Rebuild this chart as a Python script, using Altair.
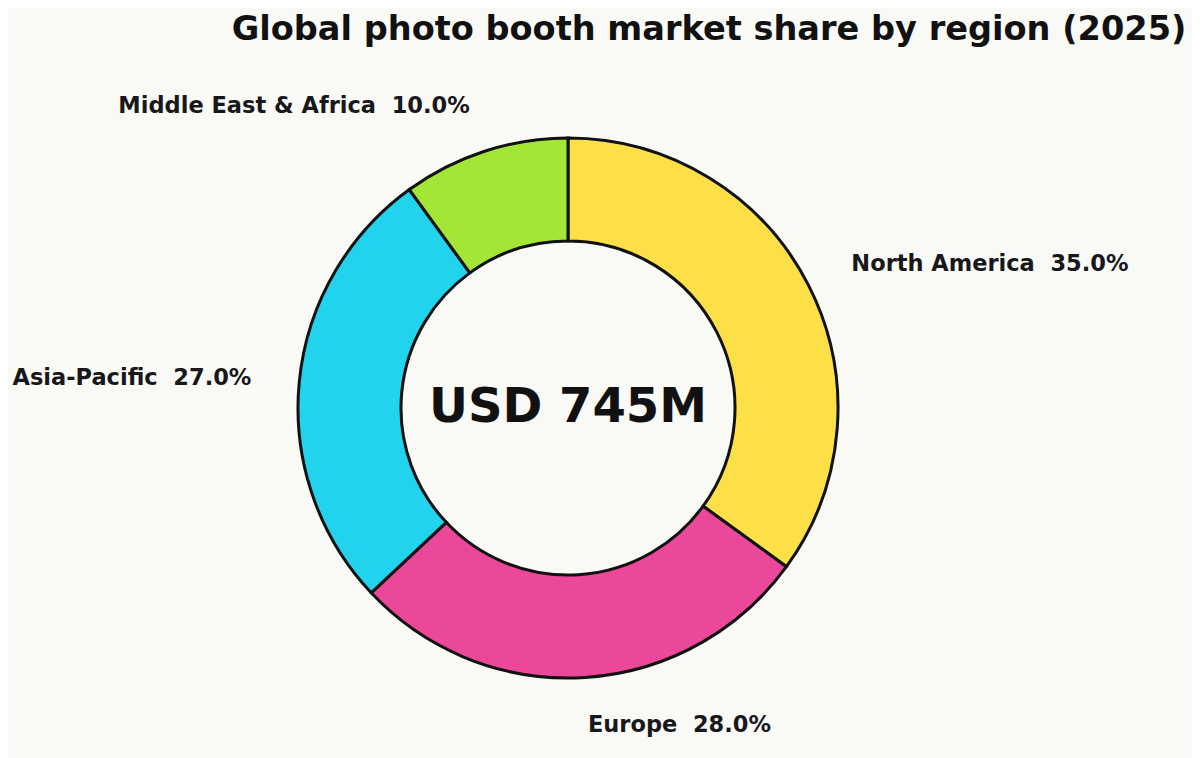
import altair as alt
import pandas as pd

regions = ["North America", "Europe", "Asia-Pacific", "Middle East & Africa"]
shares = [35.0, 28.0, 27.0, 10.0]
colors = ["#fde047", "#ec4899", "#22d3ee", "#a3e635"]
sides = ["right", "right", "left", "left"]
center_label = "USD 745M"
title_text = "Global photo booth market share by region (2025)"

df = pd.DataFrame({
    "region": regions,
    "share": shares,
    "idx": list(range(len(regions))),
    "side": sides,
})
df["label"] = [f"{r} \u00a0{s:.1f}%" for r, s in zip(regions, shares)]

arcs = alt.Chart(df).mark_arc(outerRadius=270, innerRadius=167, stroke="#111111", strokeWidth=3).encode(
    theta=alt.Theta("share:Q", stack=True),
    order=alt.Order("idx:Q"),
    color=alt.Color("region:N", scale=alt.Scale(domain=regions, range=colors), legend=None),
)

lab_base = alt.Chart(df).transform_window(
    cum="sum(share)", sort=[alt.SortField("idx")]
).transform_calculate(
    mid="datum.cum - datum.share / 2"
).encode(
    theta=alt.Theta("mid:Q", stack=None, scale=alt.Scale(domain=[0, 100])),
    text="label:N",
)

txt = dict(radius=318, baseline="middle", fontSize=22.5, fontWeight="bold",
           font="DejaVu Sans", color="#18181b")
lab_right = lab_base.mark_text(align="left", **txt).transform_filter(alt.datum.side == "right")
lab_left = lab_base.mark_text(align="right", **txt).transform_filter(alt.datum.side == "left")

center = alt.Chart(pd.DataFrame({"t": [center_label]})).mark_text(
    fontSize=48, fontWeight="bold", font="DejaVu Sans", color="#111111",
    baseline="middle", align="center").encode(text="t:N")

chart = alt.layer(arcs, lab_right, lab_left, center).properties(
    width=1120, height=700,
    padding={"left": 0, "top": 50, "right": 64, "bottom": 0},
    autosize=alt.AutoSizeParams(type="none"),
    background="#f9f9f6",
    title=alt.Title(title_text, fontSize=33.6, fontWeight="bold", font="DejaVu Sans",
                    color="#111111", anchor="middle", dx=141, offset=11),
).configure_view(stroke=None)

chart.save("out.html", embed_options={"renderer": "svg", "actions": False})
